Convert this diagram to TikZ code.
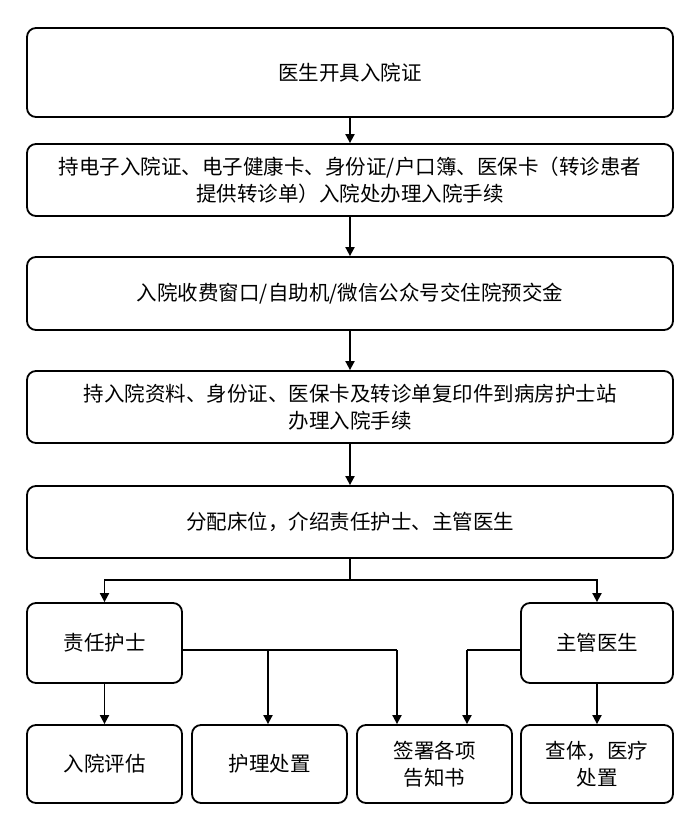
\documentclass[tikz,border=0pt]{standalone}
\usepackage{fontspec}
\setmainfont{Noto Sans CJK SC}
\usetikzlibrary{arrows.meta}
\begin{document}
\begin{tikzpicture}[x=1pt,y=-1pt,
  bx/.style={draw,line width=1.8pt,rounded corners=9pt,align=center,font=\fontsize{20.5}{27}\selectfont},
  ar/.style={line width=1.8pt,-{Triangle[length=9pt,width=9pt]}},
  ln/.style={line width=1.8pt}]
\useasboundingbox (0,0) rectangle (700,827);
\node[bx,minimum width=646pt,minimum height=89pt] (a) at (350,72.5) {医生开具入院证};
\node[bx,minimum width=646pt,minimum height=72pt] (b) at (350,180) {持电子入院证、电子健康卡、身份证/户口簿、医保卡（转诊患者\\提供转诊单）入院处办理入院手续};
\node[bx,minimum width=646pt,minimum height=73pt] (c) at (350,293.5) {入院收费窗口/自助机/微信公众号交住院预交金};
\node[bx,minimum width=646pt,minimum height=72pt] (d) at (350,407) {持入院资料、身份证、医保卡及转诊单复印件到病房护士站\\办理入院手续};
\node[bx,minimum width=646pt,minimum height=72pt] (e) at (350,522) {分配床位，介绍责任护士、主管医生};
\node[bx,minimum width=155pt,minimum height=80pt] (n) at (104.5,643) {责任护士};
\node[bx,minimum width=152pt,minimum height=80pt] (m) at (597,643) {主管医生};
\node[bx,minimum width=155pt,minimum height=78pt] (p1) at (104.5,764) {入院评估};
\node[bx,minimum width=155pt,minimum height=78pt] (p2) at (269.5,764) {护理处置};
\node[bx,minimum width=155pt,minimum height=78pt] (p3) at (434.5,764) {签署各项\\告知书};
\node[bx,minimum width=152pt,minimum height=78pt] (p4) at (597,764) {查体，医疗\\处置};
\draw[ar] (a) -- (b);
\draw[ar] (b) -- (c);
\draw[ar] (c) -- (d);
\draw[ar] (d) -- (e);
\coordinate (j) at (350,580);
\draw[ln] (e.south) -- (j);
\draw[ar] (j) -| (n.north);
\draw[ar] (j) -| (m.north);
\draw[ar] (n) -- (p1);
\draw[ar] (m) -- (p4);
\coordinate (k1) at (268,650);
\coordinate (k2) at (397,650);
\draw[ln] (n.east |- k1) -- (k2);
\draw[ar] (k1) -- (k1 |- p2.north);
\draw[ar] (k2) -- (k2 |- p3.north);
\coordinate (k3) at (467,650);
\draw[ln] (m.west |- k3) -- (k3);
\draw[ar] (k3) -- (k3 |- p3.north);
\end{tikzpicture}
\end{document}
